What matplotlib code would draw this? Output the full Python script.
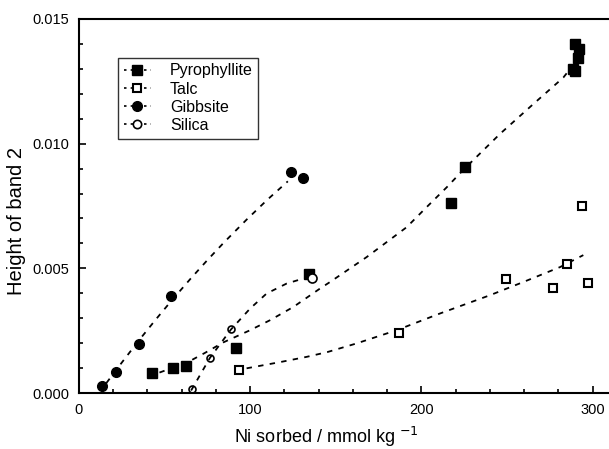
import matplotlib
matplotlib.use("Agg")
import matplotlib.pyplot as plt
from matplotlib.ticker import MultipleLocator, FormatStrFormatter

plt.rcParams["font.family"] = ["Liberation Sans", "DejaVu Sans"]

# ── measured points ───────────────────────────────────────────────────────────
pyro_x = [42.7, 55.0, 62.6, 91.5, 134.5, 217.5, 225.7, 288.5, 289.5, 290.0, 291.5, 292.0]
pyro_y = [0.0008, 0.0010, 0.00108, 0.0018, 0.00476, 0.00764, 0.00908, 0.0130, 0.0129, 0.0140, 0.01345, 0.0138]

talc_x = [93.4, 187.0, 249.6, 276.6, 284.8, 294.0, 297.6]
talc_y = [0.00092, 0.00241, 0.00456, 0.0042, 0.00516, 0.0075, 0.0044]

gibb_x = [13.6, 21.6, 35.3, 53.8, 123.8, 130.6]
gibb_y = [0.00028, 0.00084, 0.00196, 0.00388, 0.00888, 0.00864]

sil_x = [66.0, 76.6, 88.6, 136.3]
sil_y = [0.00016, 0.0014, 0.00256, 0.00463]

# ── fitted curves ─────────────────────────────────────────────────────────────
pyro_fit_x = [47.0, 55.0, 65.8, 73.6, 84.3, 100.0, 111.6, 125.2, 140.8, 146.6,
              168.0, 191.4, 203.0, 214.8, 224.5, 245.9, 265.4, 282.9, 286.8]
pyro_fit_y = [0.00082, 0.00102, 0.00132, 0.00161, 0.00203, 0.00252, 0.00292, 0.00345, 0.00419, 0.00445,
              0.00545, 0.00665, 0.00745, 0.00825, 0.00895, 0.01039, 0.01159, 0.01265, 0.01299]

talc_fit_x = [97.9, 117.5, 133.0, 145.0, 162.2, 185.6, 210.9, 240.0, 259.5, 281.0, 294.6]
talc_fit_y = [0.00099, 0.00124, 0.00145, 0.00164, 0.00199, 0.00252, 0.00319, 0.00392, 0.00445, 0.00505, 0.00553]

gibb_fit_x = [16.0, 25.0, 35.0, 45.0, 54.0, 65.0, 75.0, 85.0, 98.0, 110.0, 122.0]
gibb_fit_y = [0.0004, 0.00122, 0.00211, 0.00296, 0.0037, 0.00457, 0.00533, 0.00606, 0.00696, 0.00775, 0.00849]

sil_fit_x = [65.5, 76.5, 88.8, 100.0, 109.6, 121.3, 131.0, 135.5]
sil_fit_y = [0.0001, 0.00141, 0.00255, 0.00339, 0.00399, 0.00439, 0.00459, 0.00464]

labels = ["Pyrophyllite", "Talc", "Gibbsite", "Silica"]

# ── figure ────────────────────────────────────────────────────────────────────
fig = plt.figure(figsize=(6.09, 4.49), dpi=100)
ax = fig.add_axes([0.1297, 0.1247, 0.8703, 0.833])

dash = dict(color="black", lw=1.3, dashes=(3.0, 3.5))
ax.plot(pyro_fit_x, pyro_fit_y, **dash)
ax.plot(talc_fit_x, talc_fit_y, **dash)
ax.plot(gibb_fit_x, gibb_fit_y, **dash)
ax.plot(sil_fit_x, sil_fit_y, **dash)

ax.plot(pyro_x, pyro_y, "s", ms=7, color="black", mec="black")
ax.plot(talc_x, talc_y, "s", ms=6, mfc="white", mec="black", mew=1.5)
ax.plot(gibb_x, gibb_y, "o", ms=7, color="black")
ax.plot(sil_x[:3], sil_y[:3], "o", ms=5, mfc="none", mec="black", mew=1.2)
ax.plot(sil_x[3:], sil_y[3:], "o", ms=6.5, mfc="white", mec="black", mew=1.2)

# legend proxies
lstyle = dict(color="black", ls=(0, (1.5, 2.5)), lw=1.2)
h1, = ax.plot([], [], "s", ms=7, **lstyle)
h2, = ax.plot([], [], "s", ms=6, mfc="white", mec="black", mew=1.5, **lstyle)
h3, = ax.plot([], [], "o", ms=7, **lstyle)
h4, = ax.plot([], [], "o", ms=6, mfc="white", mec="black", mew=1.2, **lstyle)
leg = ax.legend([h1, h2, h3, h4], labels, loc="upper left",
                bbox_to_anchor=(0.0736, 0.896), fontsize=11.5, frameon=True,
                fancybox=False, edgecolor="black", handlelength=1.7,
                handletextpad=1.2, labelspacing=0.2, borderpad=0.35,
                borderaxespad=0.0)
leg.get_frame().set_linewidth(1.0)

ax.set_xlim(0, 309.6)
ax.set_ylim(0, 0.015)
ax.xaxis.set_major_locator(MultipleLocator(100))
ax.xaxis.set_minor_locator(MultipleLocator(20))
ax.yaxis.set_major_locator(MultipleLocator(0.005))
ax.yaxis.set_minor_locator(MultipleLocator(0.001))
ax.yaxis.set_major_formatter(FormatStrFormatter("%.3f"))
ax.tick_params(which="both", direction="in", labelsize=10.5, width=1.2)
ax.tick_params(which="major", length=5, pad=7)
ax.tick_params(which="minor", length=3)
ax.spines["right"].set_visible(False)
for s in ("left", "bottom", "top"):
    ax.spines[s].set_linewidth(1.5)

ax.set_xlabel("Ni sorbed / mmol kg $^{-1}$", fontsize=13)
ax.set_ylabel("Height of band 2", fontsize=14.5)
ax.xaxis.set_label_coords(0.466, -0.086)
ax.yaxis.set_label_coords(-0.1, 0.46)

fig.savefig("out.png", dpi=100)
